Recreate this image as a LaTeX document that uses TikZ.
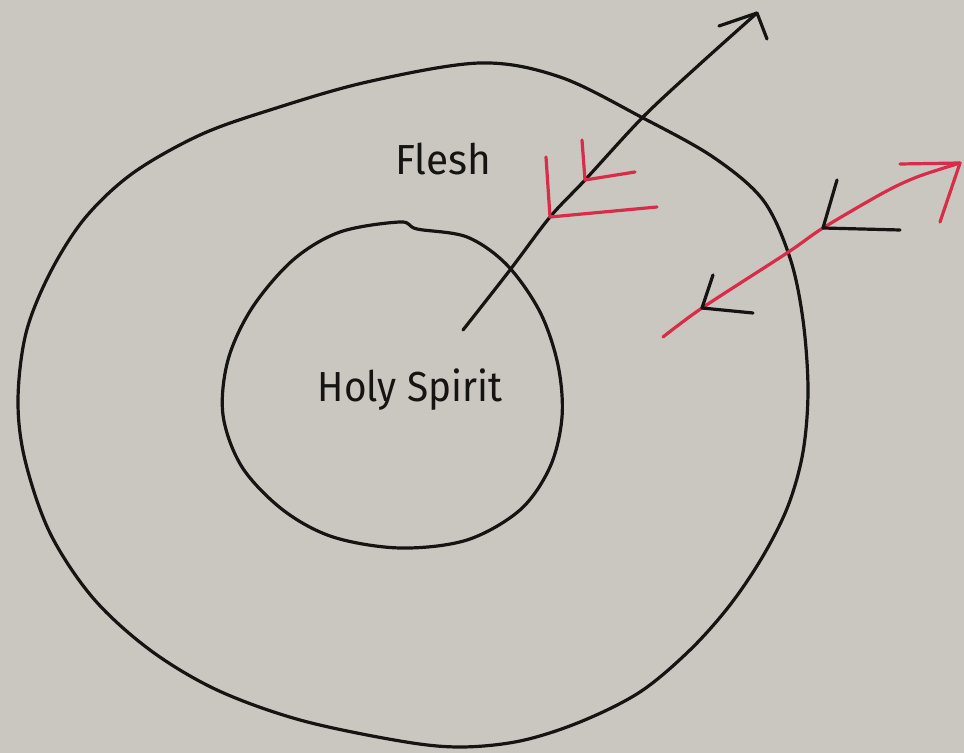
\documentclass[tikz,border=0pt]{standalone}
\usepackage{fontspec}
\setmainfont{Fira Sans}
\definecolor{paper}{RGB}{202,199,193}
\definecolor{ink}{RGB}{22,20,18}
\definecolor{redink}{RGB}{216,44,72}
\begin{document}
\begin{tikzpicture}[x=0.5pt,y=-0.5pt,
  pen/.style={draw=ink,line width=1.6pt,line cap=round,line join=round},
  redpen/.style={draw=redink,line width=1.6pt,line cap=round,line join=round},
  label/.style={font=\fontsize{21}{21}\selectfont,text=ink,inner sep=0pt,anchor=base}]
\fill[paper] (0,0) rectangle (964,753);
\useasboundingbox (0,0) rectangle (964,753);
% outer circle
\draw[pen] plot[smooth cycle,tension=0.55] coordinates {
 (480,63) (560,77) (643,118) (713,157) (763,200) (790,258) (803,320) (808,390)
 (803,452) (788,506) (763,556) (730,605) (690,650) (640,692) (580,722) (520,741)
 (460,747) (400,741) (300,720) (217,690) (150,650) (93,598) (50,533) (25,460) (18,400)
 (26,333) (50,273) (85,218) (133,173) (200,135) (270,110) (367,82)};
% inner circle
\draw[pen] plot[smooth cycle,tension=0.55] coordinates {
 (400,222) (417,229) (467,237) (507,265) (540,312) (558,365) (562,417) (550,467)
 (520,510) (467,540) (400,548) (333,537) (283,510) (242,467) (223,415) (228,360)
 (252,308) (293,260) (340,232)};
% labels
\node[label] (flesh) at (443,175) {\resizebox{48pt}{\height}{Flesh}};
\node[label] (spirit) at (410,402) {\resizebox{92pt}{\height}{Holy Spirit}};
% black arrow from centre outward
\coordinate (bs) at (463,330);
\coordinate (bt) at (757,13);
\coordinate (bb1) at (719,26);
\coordinate (bb2) at (767,39);
\draw[pen] plot[smooth,tension=0.5] coordinates {(bs) (510,270) (550,217) (585,180) (643,117) (700,64) (bt)};
\draw[pen] (bb1) -- (bt) -- (bb2);
% red ticks on black arrow
\coordinate (r1v) at (585,180); \coordinate (r1u) at (582,140); \coordinate (r1r) at (635,172);
\coordinate (r2v) at (550,217); \coordinate (r2u) at (546,157); \coordinate (r2r) at (657,207);
\draw[redpen] (r1u) -- (r1v) -- (r1r);
\draw[redpen] (r2u) -- (r2v) -- (r2r);
% red arrow
\coordinate (rs) at (663,337);
\coordinate (rt) at (960,163);
\coordinate (rb1) at (900,164);
\coordinate (rb2) at (940,222);
\draw[redpen] plot[smooth,tension=0.5] coordinates {(rs) (702,308) (787,253) (823,228) (883,193) (917,177) (rt)};
\draw[redpen] (rb1) -- (rt) -- (rb2);
% black L marks on red arrow
\coordinate (l1v) at (823,228); \coordinate (l1u) at (837,180); \coordinate (l1r) at (900,230);
\coordinate (l2v) at (702,308); \coordinate (l2u) at (713,275); \coordinate (l2r) at (753,313);
\draw[pen] (l1u) -- (l1v) -- (l1r);
\draw[pen] (l2u) -- (l2v) -- (l2r);
\end{tikzpicture}
\end{document}
